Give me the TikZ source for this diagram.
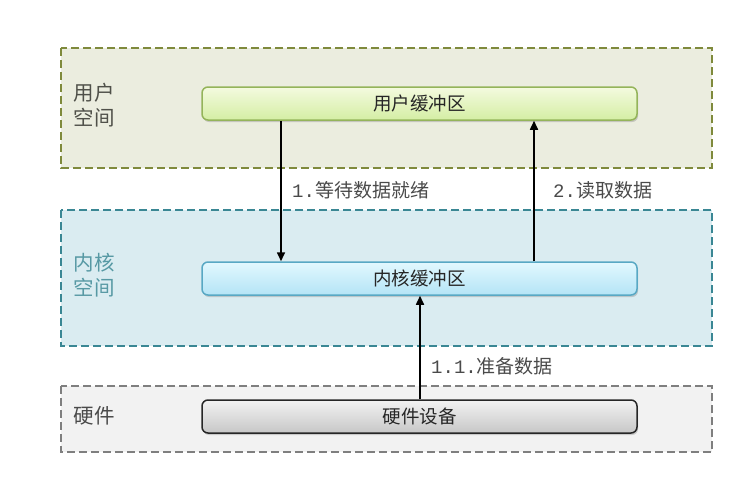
\documentclass[tikz,border=0pt]{standalone}
\usepackage{fontspec}
\newfontfamily\cjk{Noto Sans CJK SC}
\newfontfamily\monof{Liberation Mono}
\usetikzlibrary{shadows,arrows.meta}
\definecolor{userfill}{HTML}{EBEDDF}
\definecolor{userline}{HTML}{7F8A3C}
\definecolor{kernfill}{HTML}{DAECF1}
\definecolor{kernline}{HTML}{3A8794}
\definecolor{hwfill}{HTML}{F2F2F2}
\definecolor{hwline}{HTML}{7F7F7F}
\definecolor{txtgray}{HTML}{4A4A4A}
\definecolor{ubtop}{HTML}{F4FADF}
\definecolor{ubbot}{HTML}{D4EEA4}
\definecolor{ubline}{HTML}{94B45A}
\definecolor{kbtop}{HTML}{E2F8FE}
\definecolor{kbbot}{HTML}{B4E4F6}
\definecolor{kbline}{HTML}{58A8C4}
\tikzset{
  zone/.style={dashed, dash pattern=on 8pt off 4pt, line width=1.5pt},
  buf/.style={rounded corners=6pt, minimum width=435pt, minimum height=33pt, inner sep=0pt,
    font=\cjk\fontsize{18.5}{22}\selectfont, text=black!85,
    drop shadow={shadow xshift=1pt, shadow yshift=-2pt, opacity=0.35}},
  zlabel/.style={anchor=north west, align=left, font=\cjk\fontsize{20.5}{25}\selectfont},
  elabel/.style={anchor=west, font=\fontsize{19}{22}\selectfont, text=txtgray, inner sep=0pt},
  flow/.style={line width=1.6pt, -{Triangle[length=9pt,width=8pt]}}
}
\begin{document}
\begin{tikzpicture}[x=1pt,y=-1pt]
\useasboundingbox (0,0) rectangle (735,490);
\fill[white] (0,0) rectangle (735,490);
% zones
\draw[zone, draw=userline, fill=userfill] (61,48) rectangle (712,168);
\draw[zone, draw=kernline, fill=kernfill] (61,210) rectangle (712,346);
\draw[zone, draw=hwline, fill=hwfill] (61,386) rectangle (712,452);
% zone labels
\node[zlabel, text=txtgray!90!userline] (lu) at (70,80) {用户\\空间};
\node[zlabel, text=kernline!85!white] (lk) at (70,250) {内核\\空间};
\node[zlabel, text=txtgray] (lh) at (70,403) {硬件};
% buffers
\node[buf, draw=ubline, line width=1.5pt, top color=ubtop, bottom color=ubbot] (ub) at (419.5,103.5) {用户缓冲区};
\node[buf, draw=kbline, line width=1.5pt, top color=kbtop, bottom color=kbbot] (kb) at (419.5,278.5) {内核缓冲区};
\node[buf, draw=black!85, line width=1.5pt, top color=white!95!black, bottom color=black!22] (hb) at (419.5,416.5) {硬件设备};
% connectors
\draw[flow] (ub.south -| 281,0) -- (kb.north -| 281,0);
\draw[flow] (kb.north -| 534,0) -- (ub.south -| 534,0);
\draw[flow] (hb.north -| 420,0) -- (kb.south -| 420,0);
% edge labels
\node[elabel] (l1) at (292,190) {{\monof 1.}{\cjk 等待数据就绪}};
\node[elabel] (l2) at (553,190) {{\monof 2.}{\cjk 读取数据}};
\node[elabel] (l3) at (431,366) {{\monof 1.1.}{\cjk 准备数据}};
\end{tikzpicture}
\end{document}
